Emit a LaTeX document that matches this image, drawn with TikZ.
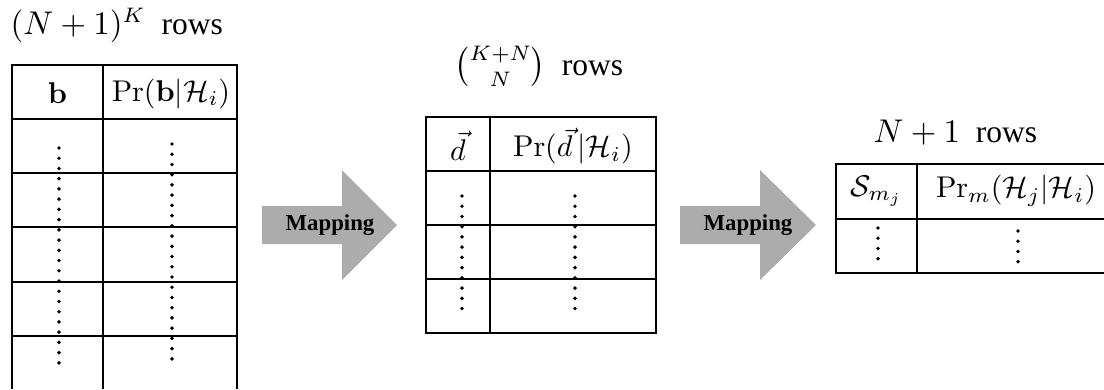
\documentclass[tikz,border=0pt]{standalone}
\usepackage{amsmath}
\usepackage[no-math]{fontspec}
\setmainfont{Liberation Serif}
\usetikzlibrary{positioning}

\begin{document}
\begin{tikzpicture}[
    x=0.3333pt, y=-0.3333pt,
    font=\fontsize{10.5}{12}\selectfont,
    every node/.style={align=center, inner sep=0pt},
    rule/.style={line width=0.9pt},
    dotcol/.style={line width=1.3pt, line cap=round, dash pattern=on 0pt off 3.41pt},
    mapshape/.style={fill=gray!65, draw=none},
    maplabel/.style={font=\fontsize{7.6}{9}\selectfont\bfseries},
    rowcount/.style={anchor=base west},
    head/.style={font=\fontsize{10.3}{12}\selectfont}
]
  \useasboundingbox (0,0) rectangle (1104,389);

  % table of all vectors b
  \node[rowcount] (countA) at (10,34) {$(N+1)^K$\enspace rows};
  \draw[rule] (12,389) -- (12,65) -- (237,65) -- (237,389);
  \draw[rule] (103,65) -- (103,389);
  \foreach \y in {119,173,227,282,336}
    \draw[rule] (12,\y) -- (237,\y);
  \node[head] (bA)  at (57.5,93.5) {$\mathbf{b}$};
  \node[head] (prA) at (171,93.5)  {$\Pr(\mathbf{b}|\mathcal{H}_i)$};
  \draw[dotcol] (59,148) -- (59,363);
  \draw[dotcol] (172,144) -- (172,359);

  % first mapping
  \fill[mapshape] (262,206) -- (342,206) -- (342,170) -- (397,225)
        -- (342,280) -- (342,244) -- (262,244) -- cycle;
  \node[maplabel] (mapAB) at (330,225) {Mapping};

  % table of vectors d
  \node[rowcount] (countB) at (454,75) {$\tbinom{K+N}{N}$\enspace rows};
  \draw[rule] (426,117) rectangle (656,333);
  \draw[rule] (490,117) -- (490,333);
  \foreach \y in {171,225,279}
    \draw[rule] (426,\y) -- (656,\y);
  \node[head] (dB)  at (458,146) {$\vec{d}$};
  \node[head] (prB) at (573,146) {$\Pr(\vec{d}\,|\mathcal{H}_i)$};
  \draw[dotcol] (462,196) -- (462,309);
  \draw[dotcol] (575,196) -- (575,309);

  % second mapping
  \fill[mapshape] (680,206) -- (760,206) -- (760,170) -- (816,225)
        -- (760,280) -- (760,244) -- (680,244) -- cycle;
  \node[maplabel] (mapBC) at (748,225) {Mapping};

  % table of hypotheses
  \node[rowcount] (countC) at (873,142) {$N+1$\enspace rows};
  \draw[rule] (1104,164) -- (836,164) -- (836,273) -- (1104,273);
  \draw[rule] (917,164) -- (917,273);
  \draw[rule] (836,219) -- (1104,219);
  \node[head] (sC)  at (876.5,191) {$\mathcal{S}_{m_j}$};
  \node[head] (prC) at (1016,191)  {$\Pr_m(\mathcal{H}_j|\mathcal{H}_i)$};
  \draw[dotcol] (878,228) -- (878,259);
  \draw[dotcol] (1018,231) -- (1018,262);
\end{tikzpicture}
\end{document}
